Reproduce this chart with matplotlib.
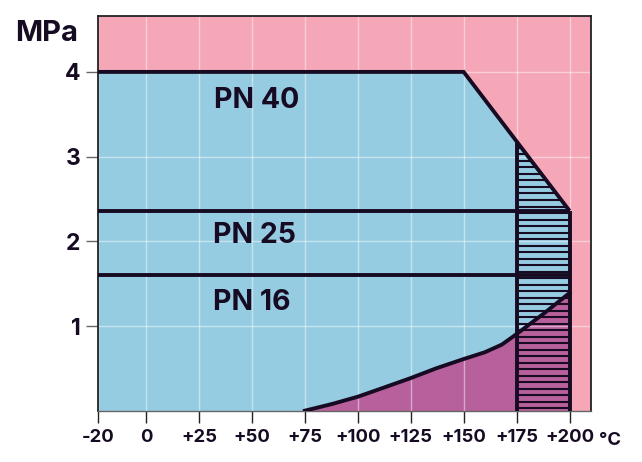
import numpy as np
import matplotlib
matplotlib.use("Agg")
import matplotlib.pyplot as plt
from matplotlib.patches import Polygon

# ---- data ----
x_ticks = [-20, 0, 25, 50, 75, 100, 125, 150, 175, 200]
x_tick_labels = ["-20", "0", "+25", "+50", "+75", "+100", "+125", "+150", "+175", "+200"]
y_ticks = [1, 2, 3, 4]
y_tick_labels = ["1", "2", "3", "4"]

# PN 40 envelope (temperature °C, pressure MPa)
pn40_t = [-20, 150, 200]
pn40_p = [4.0, 4.0, 2.36]
pn25_p = 2.36
pn16_p = 1.6
line_t = [-20, 200]

# lower curve
curve_t = [75, 88, 100, 112, 125, 137, 150, 160, 168, 175, 188, 200]
curve_p = [0.0, 0.08, 0.165, 0.27, 0.385, 0.5, 0.61, 0.69, 0.78, 0.905, 1.15, 1.39]

# hatched zone
hatch_t = [175, 175, 200, 200]
hatch_p = [0.0, 3.18, 2.36, 0.0]

labels = ["PN 40", "PN 25", "PN 16"]
label_t = [52, 51, 50]
label_p = [3.57, 1.98, 1.19]

# ---- style ----
PINK = "#F5A7B8"
BLUE = "#96CCE2"
PURPLE = "#B7609B"
DARK = "#160B22"
FONT = ["Inter", "DejaVu Sans"]
plt.rcParams["font.family"] = FONT

fig = plt.figure(figsize=(6.42, 4.62), dpi=100)
ax = fig.add_axes([98 / 642, 1 - 410.7 / 462, (590.7 - 98) / 642, (410.7 - 16) / 462])

k = 22.7 / 20.0
def fwd(x):
    x = np.asarray(x, dtype=float)
    return np.where(x < 0, x * k, x)
def inv(x):
    x = np.asarray(x, dtype=float)
    return np.where(x < 0, x / k, x)
ax.set_xscale("function", functions=(fwd, inv))

ax.set_facecolor(PINK)
ax.set_xlim(-20, 210)
ax.set_ylim(0, 4.66)

# fills
ax.fill_between(pn40_t, pn40_p, 0, color=BLUE, lw=0, zorder=1)
ax.fill_between(curve_t, curve_p, 0, color=PURPLE, lw=0, zorder=1.1)

# grid
ax.grid(True, color="white", alpha=0.45, lw=1.0)

# hatch lines clipped to the zone
clip = Polygon(list(zip(hatch_t, hatch_p)), closed=True, transform=ax.transData,
               facecolor="none", edgecolor="none")
ax.add_patch(clip)
hy = np.arange(0.03, 3.25, 0.0768)
hl = ax.hlines(hy, 175, 200, colors=DARK, lw=1.5, zorder=2)
hl.set_clip_path(clip)

lw = 2.8
ax.plot(pn40_t, pn40_p, color=DARK, lw=lw, zorder=3, solid_capstyle="butt", solid_joinstyle="miter")
ax.plot(line_t, [pn25_p, pn25_p], color=DARK, lw=lw, zorder=3, solid_capstyle="butt")
ax.plot(line_t, [pn16_p, pn16_p], color=DARK, lw=lw, zorder=3, solid_capstyle="butt")
ax.plot(curve_t, curve_p, color=DARK, lw=lw, zorder=3)
ax.plot([hatch_t[0], hatch_t[1]], [hatch_p[0], hatch_p[1]], color=DARK, lw=lw, zorder=3, solid_capstyle="butt")
ax.plot([hatch_t[2], hatch_t[3]], [hatch_p[2], hatch_p[3]], color=DARK, lw=lw, zorder=3, solid_capstyle="butt")

for s, t, p in zip(labels, label_t, label_p):
    ax.text(t, p, s, ha="center", va="baseline", fontsize=20.5, fontweight="bold", color=DARK, zorder=4)

# axes & ticks
ax.set_xticks(x_ticks)
ax.set_xticklabels(x_tick_labels)
ax.set_yticks(y_ticks)
ax.set_yticklabels(y_tick_labels)
ax.minorticks_off()
ax.tick_params(axis="x", length=8.6, width=1.0, color="#222222", pad=4.5,
               labelsize=13.3, labelcolor=DARK)
ax.tick_params(axis="y", length=8.6, width=1.0, color="#666666", pad=4,
               labelsize=16.5, labelcolor=DARK)
for lab in ax.get_xticklabels() + ax.get_yticklabels():
    lab.set_fontweight("bold")

for side in ["left", "top", "right"]:
    ax.spines[side].set_color("#222222")
    ax.spines[side].set_linewidth(1.3)
ax.spines["bottom"].set_color("#666666")
ax.spines["bottom"].set_linewidth(1.0)

ax.annotate("°C", xy=(200, 0), xycoords=("data", "axes fraction"), xytext=(29, -34.3),
            textcoords="offset pixels", ha="left", va="baseline",
            fontsize=13.3, fontweight="bold", color=DARK, annotation_clip=False)

fig.text(47 / 642, 1 - 41 / 462, "MPa", ha="center", va="baseline",
         fontsize=21, fontweight="bold", color=DARK)

fig.savefig("out.png", dpi=100)
